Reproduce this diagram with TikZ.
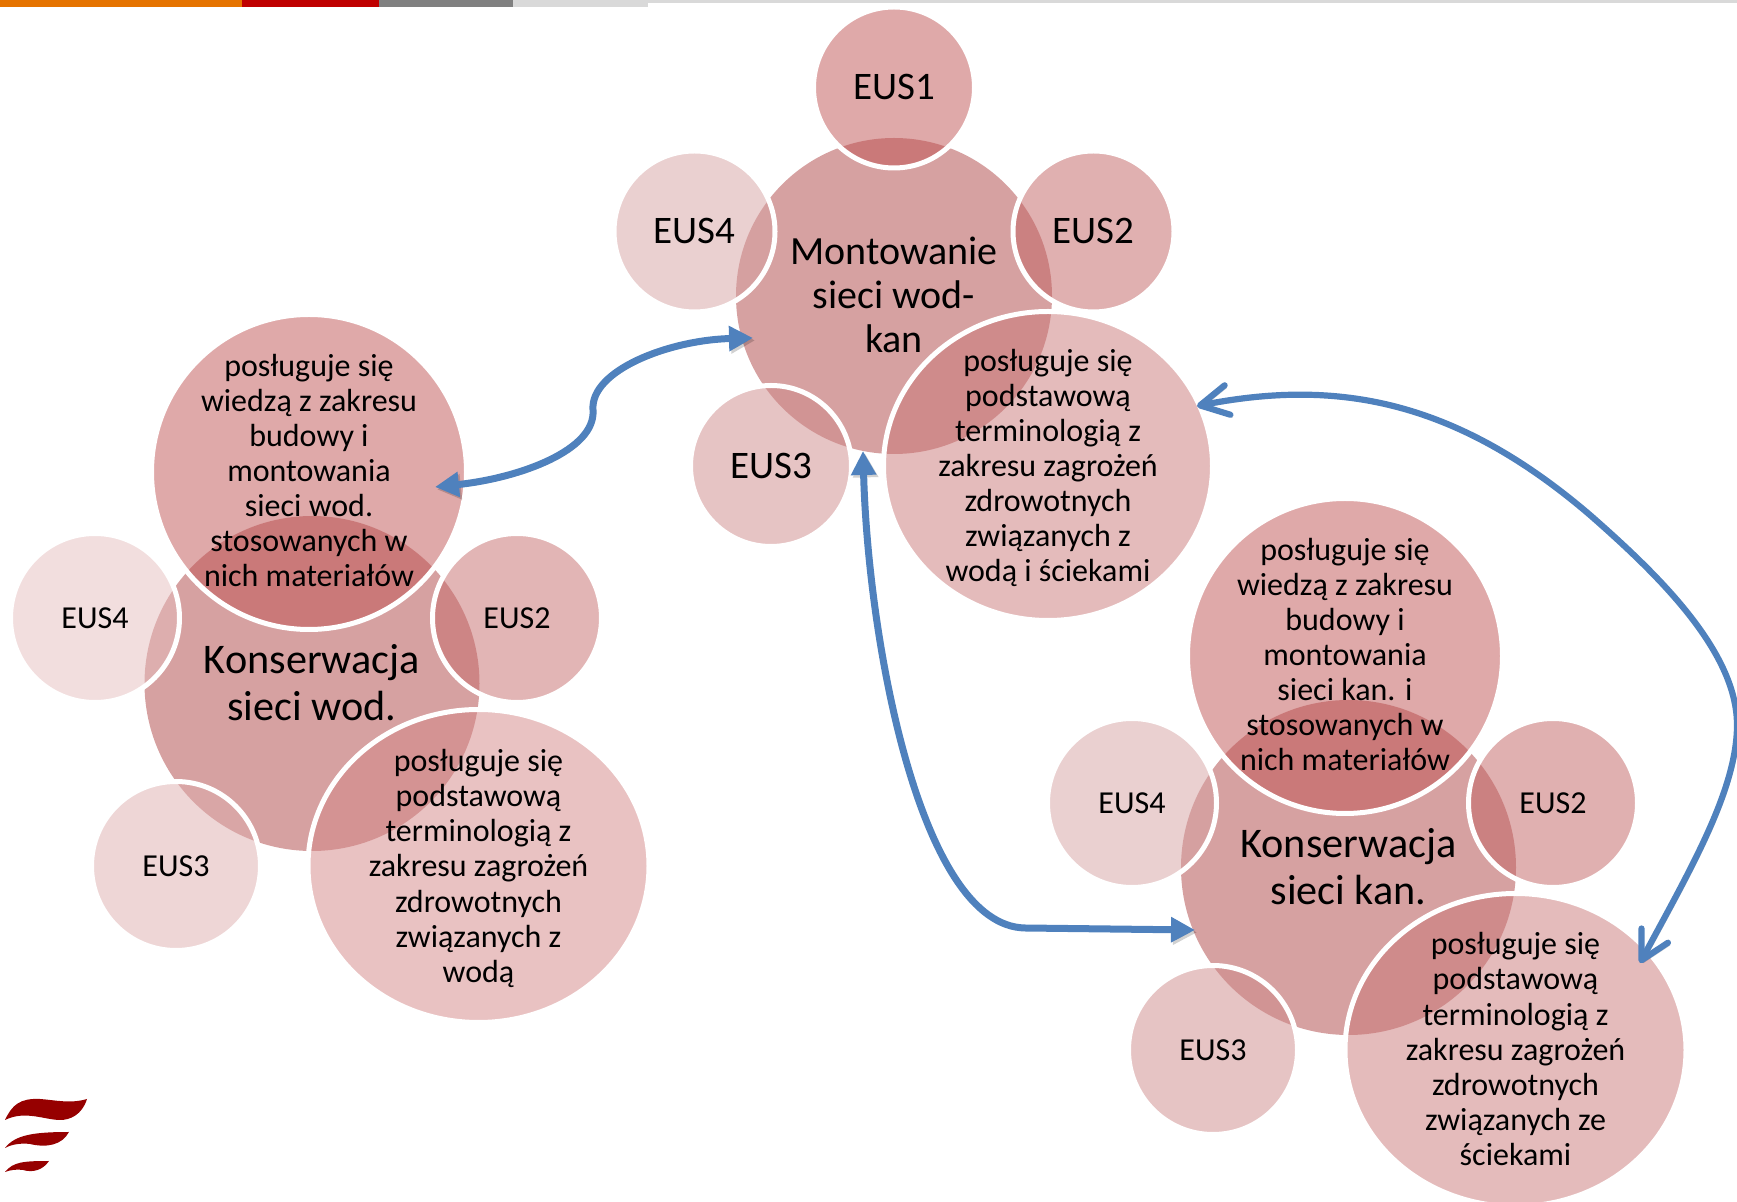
\documentclass[tikz,border=0pt]{standalone}
\usepackage{fontspec}
\setmainfont{Carlito}
\usetikzlibrary{arrows.meta,shapes.geometric}
\definecolor{tintmain}{HTML}{AD4343}
\definecolor{tinttop}{HTML}{BF5353}
\definecolor{tinttwo}{HTML}{C16161}
\definecolor{tinttwol}{HTML}{C56B6B}
\definecolor{tintbig}{HTML}{C97777}
\definecolor{tintbigl}{HTML}{D38585}
\definecolor{tintthree}{HTML}{CD8989}
\definecolor{tintthreel}{HTML}{DDADAD}
\definecolor{tintfour}{HTML}{D5A1A1}
\definecolor{tintfourl}{HTML}{E5BDBD}
\definecolor{linkblue}{HTML}{4F81BD}
\definecolor{logored}{HTML}{960000}
\newcommand{\topgap}[1]{\rule{0pt}{#1}}
\newcommand{\botgap}[1]{\rule[-#1]{0pt}{0pt}}
\begin{document}
\begin{tikzpicture}[x=0.5pt,y=-0.5pt]
	\tikzstyle{blob}=[circle, fill opacity=.5, text=black, text opacity=1, inner sep=-30pt, outer sep=0pt, align=center]
	\tikzstyle{ring}=[blob, draw=white, line width=2.5pt]
	\tikzstyle{oval}=[ring, ellipse]
	\tikzstyle{small}=[font=\fontsize{16}{17.55}\selectfont]
	\tikzstyle{large}=[font=\fontsize{19.5}{22}\selectfont]
	\tikzstyle{middle}=[font=\fontsize{20}{22}\selectfont]
	\tikzstyle{huge}=[font=\fontsize{21.1}{23.2}\selectfont]
	\tikzstyle{connect}=[line width=3.5pt, draw=linkblue, preaction={draw=black, opacity=.18, transform canvas={xshift=1pt,yshift=-1.2pt}}]
	\tikzstyle{solid}=[connect, {Triangle[length=12pt,width=12pt]}-{Triangle[length=12pt,width=12pt]}]
	\tikzstyle{barbed}=[connect, line width=3.1pt, {Straight Barb[length=14pt,width=15pt,round]}-{Straight Barb[length=14pt,width=15pt,round]}]
	\useasboundingbox (0,0) rectangle (1737,1202);
	% top bar
	\fill[fill=black!15] (648,0) rectangle (1737,3);
	\foreach \a/\b/\c in {0/242/{orange!90!black}, 242/379/{red!75!black}, 379/513/{black!50}, 513/648/{black!15}}
		\fill[fill=\c] (\a,0) rectangle (\b,7);
	% logo
	\fill[logored] (5,1120) .. controls (12,1105) and (20,1098) .. (40,1099) .. controls (55,1100) and (70,1104) .. (87,1099) .. controls (82,1115) and (70,1120) .. (60,1120) .. controls (45,1120) and (25,1110) .. (5,1120) -- cycle;
	\fill[logored] (5,1148) .. controls (15,1135) and (33,1132) .. (69,1132) .. controls (62,1145) and (47,1148) .. (30,1144) .. controls (22,1143) and (12,1144) .. (5,1148) -- cycle;
	\fill[logored] (5,1172) .. controls (13,1162) and (23,1161) .. (49,1161) .. controls (43,1170) and (33,1173) .. (23,1170) .. controls (17,1169) and (10,1170) .. (5,1172) -- cycle;
	% middle group
	\node[blob, middle, fill=tintmain, minimum size=158pt] (mont) at (894,296) {Montowanie\\sieci wod-\\kan\botgap{1pt}};
	\node[ring, large, fill=tinttop, minimum size=80.5pt] (mont1) at (894,87.5) {EUS1\botgap{1pt}};
	\node[ring, large, fill=tinttwo, minimum size=80.5pt] (mont2) at (1093.5,231.5) {EUS2\botgap{1pt}};
	\node[ring, large, fill=tintfour, minimum size=80.5pt] (mont4) at (694.5,231.5) {EUS4\botgap{1pt}};
	\node[ring, large, fill=tintthree, minimum size=80.5pt] (mont3) at (771,466) {EUS3};
	\node[oval, small, fill=tintbig, minimum width=164.5pt, minimum height=154.5pt] (montz) at (1048,466) {\topgap{13pt}posługuje się\\podstawową\\terminologią z\\zakresu zagrożeń\\zdrowotnych\\związanych z\\wodą i ściekami};
	% left group
	\node[blob, huge, fill=tintmain, minimum size=167.5pt] (wod) at (312,683.5) {Konserwacja\\sieci wod.\botgap{1pt}};
	\node[ring, small, fill=tinttop, minimum size=157.5pt] (wodb) at (309,472) {posługuje się\\wiedzą z zakresu\\budowy i\\montowania\\sieci wod.\\stosowanych w\\nich materiałów\botgap{1.8pt}};
	\node[ring, small, fill=tinttwol, minimum size=84.5pt] (wod2) at (517,618) {EUS2};
	\node[ring, small, fill=tintfourl, minimum size=84.5pt] (wod4) at (95,618) {EUS4};
	\node[ring, small, fill=tintthreel, minimum size=84.5pt] (wod3) at (176,866) {EUS3};
	\node[oval, small, fill=tintbigl, minimum width=170.5pt, minimum height=156.5pt] (wodz) at (478.5,866) {\topgap{13.5pt}posługuje się\\podstawową\\terminologią z\\zakresu zagrożeń\\zdrowotnych\\związanych z\\wodą};
	% right group
	\node[blob, huge, fill=tintmain, minimum size=167.5pt] (kan) at (1348.5,867.5) {Konserwacja\\sieci kan.\botgap{1pt}};
	\node[ring, small, fill=tinttop, minimum size=157.5pt] (kanb) at (1345,656) {posługuje się\\wiedzą z zakresu\\budowy i\\montowania\\sieci kan. i\\stosowanych w\\nich materiałów\botgap{1.8pt}};
	\node[ring, small, fill=tinttwo, minimum size=84.5pt] (kan2) at (1553,803) {EUS2};
	\node[ring, small, fill=tintfour, minimum size=84.5pt] (kan4) at (1132,803) {EUS4};
	\node[ring, small, fill=tintthree, minimum size=84.5pt] (kan3) at (1213,1050) {EUS3};
	\node[oval, small, fill=tintbig, minimum width=170.5pt, minimum height=156.5pt] (kanz) at (1515.5,1050) {posługuje się\\podstawową\\terminologią z\\zakresu zagrożeń\\zdrowotnych\\związanych ze\\ściekami\botgap{1pt}};
	% links
	\draw[solid] ([shift={(126,15)}]wodb.center) .. controls (520,478) and (596,450) .. (593,410) .. controls (590,370) and (670,340) .. ([shift={(-141,42)}]mont.center);
	\draw[solid] ([shift={(-31,155)}]mont.center) .. controls (868,640) and (920,926) .. (1025,928) -- ([shift={(-153.5,62.5)}]kan.center);
	\draw[barbed] ([shift={(149,-60)}]montz.center) .. controls (1330,380) and (1450,395) .. (1590,515) .. controls (1655,572) and (1737,650) .. (1737,725) .. controls (1737,790) and (1690,870) .. ([shift={(124.5,-87)}]kanz.center);
\end{tikzpicture}
\end{document}
